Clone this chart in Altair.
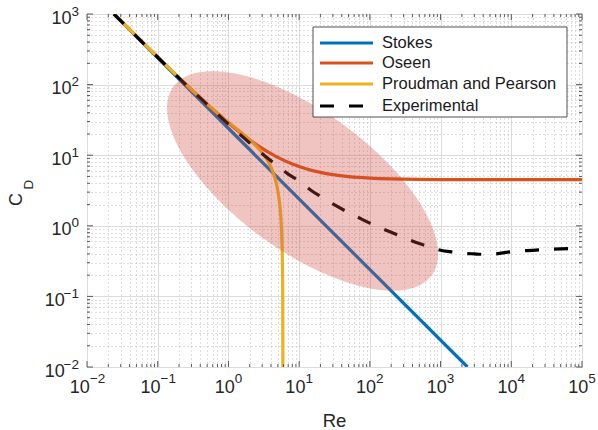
import altair as alt
import numpy as np
import pandas as pd

# ---------------- data ----------------
stokes_re = [0.024, 2400]
stokes_cd = [1000, 0.01]

oseen_re = [0.024, 0.05, 0.1, 0.2, 0.3, 0.5, 0.7, 1, 1.5, 2, 3, 4, 5, 7, 10, 15, 20, 30, 50, 70, 100,
            200, 300, 500, 1000, 2000, 10000, 100000]
oseen_cd = [1004.5, 484.5, 244.5, 124.5, 84.5, 52.5, 38.8, 28.5, 20.5, 16.5, 12.5, 10.5, 9.3, 7.93, 6.9,
            6.1, 5.7, 5.3, 4.98, 4.84, 4.74, 4.62, 4.58, 4.55, 4.52, 4.51, 4.5, 4.5]

pp_re = [0.024, 0.1, 0.3, 0.5, 1, 1.5, 2, 2.5, 3, 3.5, 4, 4.5, 5, 5.25, 5.5, 5.6, 5.7, 5.8, 5.85, 5.88, 5.884]
pp_cd = [1004.6, 244.9, 85.3, 53.4, 29.4, 21.1, 16.5, 13.35, 10.86, 8.71, 6.76, 4.92, 3.12, 2.23, 1.36, 1.0,
         0.65, 0.30, 0.127, 0.021, 0.006]

exp_re = [0.024, 0.05, 0.1, 0.3, 0.5, 0.7, 1, 1.5, 2, 3, 5, 7, 10, 15, 20, 30, 50, 70, 100, 200, 300, 500,
          700, 1000, 1500, 2000, 3000, 4000, 6000, 10000, 20000, 30000, 50000, 100000]
exp_cd = [1000, 482, 244, 84, 52.5, 38.3, 27.5, 19.2, 14.9, 10.5, 7.0, 5.39, 4.3, 3.14, 2.62, 2.04, 1.54,
          1.30, 1.09, 0.81, 0.684, 0.56, 0.50, 0.45, 0.425, 0.41, 0.40, 0.395, 0.40, 0.43, 0.45, 0.46,
          0.47, 0.48]

series_names = ["Stokes", "Oseen", "Proudman and Pearson", "Experimental"]
series_colors = ["#0072BD", "#D95319", "#EDB120", "#000000"]

# shaded ellipse (log10 space): centre, semi-axes (decades), rotation (deg)
ell_cx, ell_cy, ell_a, ell_b, ell_ang = 1.048, 0.635, 2.263, 0.984, -36.2

x_exps = [-2, -1, 0, 1, 2, 3, 4, 5]
y_exps = [-2, -1, 0, 1, 2, 3]

# ---------------- layout / style ----------------
W, H = 495, 353
PAD = {"left": 87, "top": 14, "right": 16, "bottom": 63}
FONT = "Liberation Sans"
TXT = "#262626"
AXC = "#5a5a5a"
DASH = [14, 15]

xscale = alt.Scale(type="log", domain=[1e-2, 1e5], nice=False)
yscale = alt.Scale(type="log", domain=[1e-2, 1e3], nice=False)

x_major = [10.0 ** e for e in x_exps]
x_minor = [k * 10.0 ** e for e in x_exps[:-1] for k in range(2, 10)]
y_major = [10.0 ** e for e in y_exps]
y_minor = [k * 10.0 ** e for e in y_exps[:-1] for k in range(2, 10)]

major_test = "abs(log(datum.value)/LN10 - round(log(datum.value)/LN10)) < 0.000001"


def grid_axis(vals):
    return alt.Axis(
        values=vals, labels=False, ticks=False, domain=False, title=None, grid=True,
        gridColor={"condition": {"test": major_test, "value": "#dcdcdc"}, "value": "#bcbcbc"},
        gridDash={"condition": {"test": major_test, "value": []}, "value": [1, 3]},
        gridWidth=1,
    )


XAX = grid_axis(x_major + x_minor)
YAX = grid_axis(y_major + y_minor)


def X(f):
    return alt.X(f, type="quantitative", scale=xscale, axis=XAX)


def Y(f):
    return alt.Y(f, type="quantitative", scale=yscale, axis=YAX)


layers = []

# ---------------- curves ----------------
curves = [(stokes_re, stokes_cd), (oseen_re, oseen_cd), (pp_re, pp_cd)]
for (re, cd), col in zip(curves, series_colors[:3]):
    df = pd.DataFrame({"re": re, "cd": cd})
    layers.append(alt.Chart(df).mark_line(color=col, strokeWidth=3.2, clip=True, interpolate="monotone")
                  .encode(x=X("re"), y=Y("cd")))
df_exp = pd.DataFrame({"re": exp_re, "cd": exp_cd})
layers.append(alt.Chart(df_exp).mark_line(color=series_colors[3], strokeWidth=3.2,
                                          strokeDash=DASH, clip=True, interpolate="monotone")
              .encode(x=X("re"), y=Y("cd")))

# ---------------- shaded ellipse (on top, translucent) ----------------
phi = np.radians(ell_ang)
c, s = np.cos(phi), np.sin(phi)
half_w = np.sqrt(ell_a ** 2 * c ** 2 + ell_b ** 2 * s ** 2)
t = np.linspace(0, np.pi, 301)
u = -half_w * np.cos(t)
A = s ** 2 / ell_a ** 2 + c ** 2 / ell_b ** 2
B = 2 * u * c * s * (1 / ell_a ** 2 - 1 / ell_b ** 2)
C = u ** 2 * (c ** 2 / ell_a ** 2 + s ** 2 / ell_b ** 2) - 1
disc = np.sqrt(np.clip(B ** 2 - 4 * A * C, 0, None))
v_lo = (-B - disc) / (2 * A)
v_hi = (-B + disc) / (2 * A)
df_ell = pd.DataFrame({"re": 10 ** (ell_cx + u), "lo": 10 ** (ell_cy + v_lo), "hi": 10 ** (ell_cy + v_hi)})
layers.append(alt.Chart(df_ell).mark_area(color="#CF4B3E", opacity=0.32, clip=True)
              .encode(x=X("re"), y=Y("lo"), y2="hi"))

# ---------------- inward ticks on all four sides ----------------
def xticks(vals, y0, y1):
    return alt.Chart(pd.DataFrame({"v": vals})).mark_rule(color=AXC, strokeWidth=1).encode(
        x=X("v"), y=alt.value(y0), y2=alt.value(y1))


def yticks(vals, x0, x1):
    return alt.Chart(pd.DataFrame({"v": vals})).mark_rule(color=AXC, strokeWidth=1).encode(
        y=Y("v"), x=alt.value(x0), x2=alt.value(x1))


layers += [
    xticks(x_major, H, H - 6), xticks(x_minor, H, H - 3),
    xticks(x_major, 0, 6), xticks(x_minor, 0, 3),
    yticks(y_major, 0, 6), yticks(y_minor, 0, 3),
    yticks(y_major, W, W - 6), yticks(y_minor, W, W - 3),
]

# ---------------- tick labels (10 with superscript exponent) ----------------
BASE_FS, EXP_FS = 18, 13.5
w10 = 2 * 0.556 * BASE_FS


def exp_txt(e):
    return ("\u2212" + str(-e)) if e < 0 else str(e)


def exp_w(e):
    return 0.556 * EXP_FS * len(str(abs(e))) + (0.5 * EXP_FS if e < 0 else 0)


for neg in (True, False):
    ex = [e for e in x_exps if (e < 0) == neg]
    dfx = pd.DataFrame({"v": [10.0 ** e for e in ex], "e": [exp_txt(e) for e in ex]})
    dx = (w10 - exp_w(-2 if neg else 1)) / 2
    layers.append(alt.Chart(dfx).mark_text(font=FONT, fontSize=BASE_FS, color=TXT, align="right",
                                          baseline="alphabetic", dx=dx)
                  .encode(x=X("v"), y=alt.value(H + 26), text=alt.value("10")))
    layers.append(alt.Chart(dfx).mark_text(font=FONT, fontSize=EXP_FS, color=TXT, align="left",
                                          baseline="alphabetic", dx=dx)
                  .encode(x=X("v"), y=alt.value(H + 16), text="e:N"))

    ey = [e for e in y_exps if (e < 0) == neg]
    dfy = pd.DataFrame({"v": [10.0 ** e for e in ey], "e": [exp_txt(e) for e in ey]})
    wexp = exp_w(-2 if neg else 1)
    layers.append(alt.Chart(dfy).mark_text(font=FONT, fontSize=BASE_FS, color=TXT, align="right",
                                          baseline="alphabetic", dy=9.5)
                  .encode(y=Y("v"), x=alt.value(-8 - wexp), text=alt.value("10")))
    layers.append(alt.Chart(dfy).mark_text(font=FONT, fontSize=EXP_FS, color=TXT, align="right",
                                          baseline="alphabetic", dy=1.5)
                  .encode(y=Y("v"), x=alt.value(-8), text="e:N"))

# ---------------- axis titles ----------------
layers.append(alt.Chart(pd.DataFrame({"a": [0]})).mark_text(
    font=FONT, fontSize=18.5, color=TXT, align="center", baseline="alphabetic").encode(
    x=alt.value(W / 2), y=alt.value(H + 60), text=alt.value("Re")))
layers.append(alt.Chart(pd.DataFrame({"a": [0]})).mark_text(
    font=FONT, fontSize=18, color=TXT, align="center", baseline="alphabetic", angle=270).encode(
    x=alt.value(-65), y=alt.value(185.5), text=alt.value("C")))
layers.append(alt.Chart(pd.DataFrame({"a": [0]})).mark_text(
    font=FONT, fontSize=13.5, color=TXT, align="center", baseline="alphabetic", angle=270).encode(
    x=alt.value(-54.5), y=alt.value(170.5), text=alt.value("D")))

# ---------------- legend ----------------
LX0, LX1, LY0, LY1 = 226, 480, 13, 103
layers.append(alt.Chart(pd.DataFrame({"a": [0]})).mark_rect(
    fill="white", stroke="#262626", strokeWidth=0.8).encode(
    x=alt.value(LX0), x2=alt.value(LX1), y=alt.value(LY0), y2=alt.value(LY1)))
row_y = [29, 49, 70, 92]
for name, col, ry in zip(series_names, series_colors, row_y):
    kw = dict(color=col, strokeWidth=3.2)
    if name == "Experimental":
        kw["strokeDash"] = DASH
    layers.append(alt.Chart(pd.DataFrame({"a": [0]})).mark_rule(**kw).encode(
        x=alt.value(233), x2=alt.value(286), y=alt.value(ry), y2=alt.value(ry)))
    layers.append(alt.Chart(pd.DataFrame({"a": [0]})).mark_text(
        font=FONT, fontSize=16.5, color="#1a1a1a", align="left", baseline="middle").encode(
        x=alt.value(295), y=alt.value(ry), text=alt.value(name)))

chart = alt.layer(*layers).properties(
    width=W, height=H, padding=PAD,
    autosize=alt.AutoSizeParams(type="none"),
    background="white",
).configure_view(stroke=AXC, strokeWidth=1)

chart.save("out.html", embed_options={"renderer": "svg", "actions": False})
